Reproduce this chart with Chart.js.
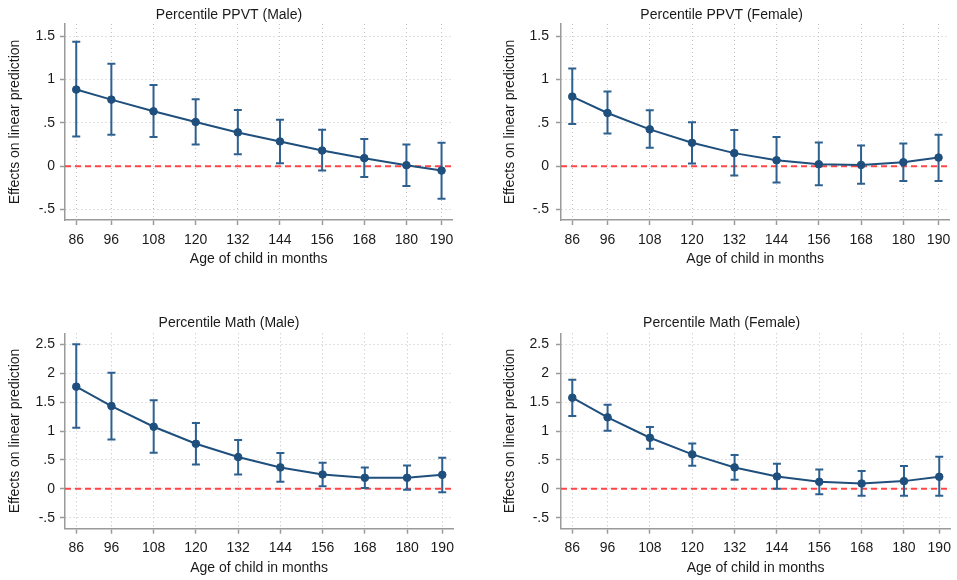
<!DOCTYPE html>
<html>
<head>
<meta charset="utf-8">
<script src="https://cdn.jsdelivr.net/npm/chart.js@4.4.1/dist/chart.umd.min.js"></script>
<style>
  body { margin: 0; background: #fff; }
  #wrap { position: relative; width: 957px; height: 580px; }
  canvas { position: absolute; }
</style>
</head>
<body>
<div id="wrap">
  <canvas id="ppvt-male" width="460" height="290" style="left:0;top:0"></canvas>
  <canvas id="ppvt-female" width="467" height="290" style="left:490px;top:0"></canvas>
  <canvas id="math-male" width="460" height="290" style="left:0;top:290px"></canvas>
  <canvas id="math-female" width="467" height="290" style="left:490px;top:290px"></canvas>
</div>
<script>
const ages = [86, 96, 108, 120, 132, 144, 156, 168, 180, 190];

const ppvtMaleEst = [0.884, 0.768, 0.633, 0.51, 0.39, 0.286, 0.181, 0.093, 0.012, -0.05];
const ppvtMaleLo = [0.344, 0.363, 0.336, 0.251, 0.139, 0.035, -0.05, -0.124, -0.228, -0.374];
const ppvtMaleHi = [1.436, 1.181, 0.938, 0.772, 0.649, 0.537, 0.421, 0.313, 0.251, 0.27];

const ppvtFemaleEst = [0.803, 0.614, 0.425, 0.27, 0.151, 0.069, 0.023, 0.015, 0.046, 0.1];
const ppvtFemaleLo = [0.486, 0.378, 0.212, 0.031, -0.108, -0.189, -0.22, -0.201, -0.17, -0.17];
const ppvtFemaleHi = [1.127, 0.861, 0.645, 0.506, 0.417, 0.336, 0.274, 0.239, 0.263, 0.363];

const mathMaleEst = [1.767, 1.432, 1.074, 0.779, 0.549, 0.37, 0.248, 0.191, 0.191, 0.242];
const mathMaleLo = [1.057, 0.855, 0.624, 0.421, 0.248, 0.121, 0.046, 0.012, -0.017, -0.058];
const mathMaleHi = [2.5, 2.009, 1.53, 1.137, 0.843, 0.618, 0.45, 0.37, 0.404, 0.537];

const mathFemaleEst = [1.576, 1.236, 0.883, 0.595, 0.37, 0.214, 0.121, 0.092, 0.133, 0.208];
const mathFemaleLo = [1.259, 1.005, 0.693, 0.398, 0.156, 0.0, -0.092, -0.121, -0.121, -0.121];
const mathFemaleHi = [1.888, 1.455, 1.068, 0.785, 0.583, 0.433, 0.335, 0.306, 0.393, 0.554];

const yTicksPpvt = [-0.5, 0, 0.5, 1, 1.5];
const yTickLabelsPpvt = ["-.5", "0", ".5", "1", "1.5"];
const yTicksMath = [-0.5, 0, 0.5, 1, 1.5, 2, 2.5];
const yTickLabelsMath = ["-.5", "0", ".5", "1", "1.5", "2", "2.5"];

Chart.defaults.font.family = "'Liberation Sans', Arial, sans-serif";
Chart.defaults.font.size = 14;
Chart.defaults.color = "#1a1a1a";

const xMin = 82.8;
const xMax = 193.1;
const lineColor = "#1f4f7d";
const ciColor = "#2d5f8f";
const zeroColor = "#ff4545";
const axisColor = "#9a9a9a";
const gridColor = "#c2c2c2";

function ciPoints(lo, hi) {
  const pts = [];
  ages.forEach((a, i) => {
    pts.push({ x: a, y: lo[i] }, { x: a, y: hi[i] }, { x: a, y: null });
  });
  return pts;
}

function panelChart(id, title, est, lo, hi, yTicks, yLabels, yMin, yMax, box) {
  const ctx = document.getElementById(id).getContext("2d");
  return new Chart(ctx, {
    type: "line",
    data: {
      datasets: [
        {
          data: est.map((y, i) => ({ x: ages[i], y: y })),
          borderColor: lineColor,
          borderWidth: 2,
          backgroundColor: lineColor,
          pointRadius: 3.8,
          pointBorderWidth: 1,
          pointBackgroundColor: lineColor,
          pointBorderColor: lineColor,
          tension: 0,
          order: 0,
        },
        {
          data: ciPoints(lo, hi),
          borderColor: ciColor,
          borderWidth: 2,
          pointStyle: "line",
          pointRadius: 4,
          pointBorderWidth: 2,
          pointBorderColor: ciColor,
          spanGaps: false,
          order: 1,
        },
        {
          data: [{ x: xMin, y: 0 }, { x: xMax, y: 0 }],
          borderColor: zeroColor,
          borderWidth: 2,
          borderDash: [6, 4],
          pointRadius: 0,
          order: 2,
        },
      ],
    },
    options: {
      responsive: false,
      animation: false,
      events: [],
      layout: { padding: { left: 0, top: 0, right: box.padRight, bottom: 0 } },
      plugins: {
        legend: { display: false },
        tooltip: { enabled: false },
        title: {
          display: true,
          text: title,
          color: "#1a1a1a",
          font: { size: 14, weight: "normal" },
          padding: box.titlePad,
        },
      },
      scales: {
        x: {
          type: "linear",
          min: xMin,
          max: xMax,
          bounds: "data",
          afterBuildTicks: (axis) => {
            axis.ticks = ages.map((v) => ({ value: v }));
          },
          afterFit: (axis) => {
            axis.height = box.xAxisHeight;
          },
          ticks: {
            padding: box.xTickPad,
            autoSkip: false,
            maxRotation: 0,
            callback: (v) => String(v),
          },
          grid: {
            color: gridColor,
            lineWidth: 1,
            tickLength: 5,
            tickColor: axisColor,
            tickWidth: 1.5,
          },
          border: { display: true, color: axisColor, width: 1.5, dash: [1, 3] },
          title: {
            display: true,
            text: "Age of child in months",
            padding: { top: 0, bottom: box.xTitlePad },
          },
        },
        y: {
          type: "linear",
          min: yMin,
          max: yMax,
          bounds: "data",
          afterBuildTicks: (axis) => {
            axis.ticks = yTicks.map((v) => ({ value: v }));
          },
          afterFit: (axis) => {
            axis.width = box.yAxisWidth;
          },
          ticks: {
            padding: box.yTickPad,
            callback: (v, i) => yLabels[i],
          },
          grid: {
            color: gridColor,
            lineWidth: 1,
            tickLength: 5,
            tickColor: axisColor,
            tickWidth: 1.5,
          },
          border: { display: true, color: axisColor, width: 1.5, dash: [1, 3] },
          title: {
            display: true,
            text: "Effects on linear prediction",
            padding: { top: box.yTitlePad, bottom: 0 },
          },
        },
      },
    },
  });
}

const leftTop = { yAxisWidth: 65, xAxisHeight: 70, padRight: 2, titlePad: { top: 6.6, bottom: 0.6 }, yTitlePad: 6.6, yTickPad: 5, xTickPad: 6.6, xTitlePad: 22.6 };
const rightTop = { yAxisWidth: 71, xAxisHeight: 70, padRight: 3.7, titlePad: { top: 6.6, bottom: 0.6 }, yTitlePad: 12.1, yTickPad: 7, xTickPad: 6.6, xTitlePad: 22.6 };
const leftBottom = { yAxisWidth: 65, xAxisHeight: 51.3, padRight: 2, titlePad: { top: 24.6, bottom: 1.9 }, yTitlePad: 6.6, yTickPad: 5, xTickPad: 5.9, xTitlePad: 3.6 };
const rightBottom = { yAxisWidth: 71, xAxisHeight: 51.3, padRight: 3.7, titlePad: { top: 24.6, bottom: 1.9 }, yTitlePad: 12.1, yTickPad: 7, xTickPad: 5.9, xTitlePad: 3.6 };

panelChart("ppvt-male", "Percentile PPVT (Male)", ppvtMaleEst, ppvtMaleLo, ppvtMaleHi, yTicksPpvt, yTickLabelsPpvt, -0.62, 1.64, leftTop);
panelChart("ppvt-female", "Percentile PPVT (Female)", ppvtFemaleEst, ppvtFemaleLo, ppvtFemaleHi, yTicksPpvt, yTickLabelsPpvt, -0.62, 1.64, rightTop);
panelChart("math-male", "Percentile Math (Male)", mathMaleEst, mathMaleLo, mathMaleHi, yTicksMath, yTickLabelsMath, -0.69, 2.69, leftBottom);
panelChart("math-female", "Percentile Math (Female)", mathFemaleEst, mathFemaleLo, mathFemaleHi, yTicksMath, yTickLabelsMath, -0.69, 2.69, rightBottom);
</script>
</body>
</html>
